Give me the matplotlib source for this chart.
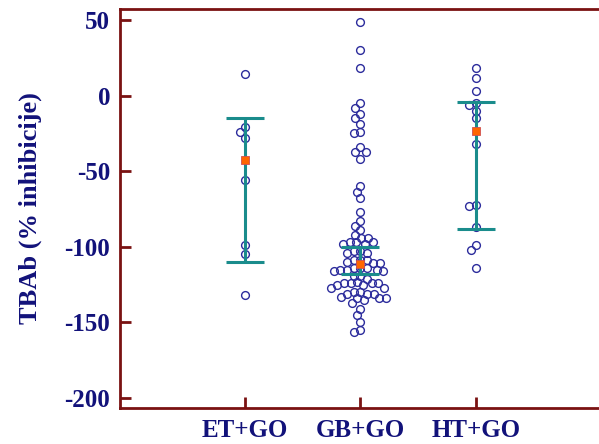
import matplotlib
matplotlib.use("Agg")
import matplotlib.pyplot as plt
import numpy as np

groups = ["ET+GO", "GB+GO", "HT+GO"]

et_vals = [14, -21, -24, -28, -56, -99, -105, -132]
gb_vals = [49, 30, 18, -5, -8, -12, -15, -19, -24, -25, -34, -37, -37, -42,
           -60, -64, -68, -77, -83, -86, -89, -92,
           -94, -94, -97, -97, -97, -98, -98,
           -103, -103, -104, -104, -109, -109, -109, -110, -111, -111,
           -114, -114, -114, -115, -115, -115, -116, -116, -119, -119, -121,
           -123, -124, -124, -124, -124, -125, -125, -127, -127,
           -130, -130, -131, -131, -131, -133, -134, -134, -134, -135,
           -137, -141, -145, -150, -155, -156]
ht_vals = [18, 12, 3, -5, -6, -10, -15, -32, -72, -73, -87, -99, -102, -114]

medians = [-42.5, -111.5, -23.3]
upper = [-14.7, -99.9, -4.0]
lower = [-109.8, -117.9, -87.9]

yticks = [50, 0, -50, -100, -150, -200]

navy = "#12127a"
maroon = "#7a1212"
teal = "#1a8c8c"

plt.rcParams["font.family"] = ["Liberation Serif", "DejaVu Serif"]
plt.rcParams["font.weight"] = "bold"
plt.rcParams["axes.unicode_minus"] = False


def swarm_offsets(ax, center, vals, gap=6.8):
    # simple beeswarm in pixel space: each point goes to the closest free spot
    pts = ax.transData.transform(np.column_stack([np.full(len(vals), center), vals]))
    ypx = pts[:, 1]
    order = np.argsort(-ypx)
    placed_x, placed_y = [], []
    xoff = np.zeros(len(vals))
    for i in order:
        y = ypx[i]
        cands = [0.0]
        for px, py in zip(placed_x, placed_y):
            dy = abs(py - y)
            if dy < gap:
                dx = np.sqrt(gap ** 2 - dy ** 2)
                cands += [px - dx - 0.01, px + dx + 0.01]
        cands = sorted(cands, key=abs)
        for c in cands:
            ok = all((px - c) ** 2 + (py - y) ** 2 >= gap ** 2 - 1e-6
                     for px, py in zip(placed_x, placed_y))
            if ok:
                break
        xoff[i] = c
        placed_x.append(c)
        placed_y.append(y)
    xs = pts[:, 0] + xoff
    back = ax.transData.inverted().transform(np.column_stack([xs, ypx]))
    return back[:, 0]


fig = plt.figure(figsize=(5.99, 4.44), dpi=100)
ax = fig.add_axes([0.2003, 0.081, 0.7997, 0.8987])
ax.set_xlim(-1.082, 3.065)
ax.set_ylim(-206.6, 57.3)

pos = np.arange(len(groups))
for p, vals in zip(pos, [et_vals, gb_vals, ht_vals]):
    xs = swarm_offsets(ax, p, vals)
    ax.plot(xs, vals, "o", linestyle="none", markersize=5.6, markerfacecolor="none",
            markeredgecolor="#2c2c9c", markeredgewidth=1.0, zorder=2)

med = np.array(medians)
err = [med - np.array(lower), np.array(upper) - med]
ax.errorbar(pos, med, yerr=err, fmt="none", ecolor=teal, elinewidth=2.2,
            capsize=13.5, capthick=2.2, zorder=3)
ax.plot(pos, med, "s", color="#ff6600", markeredgecolor="#d05050",
        markeredgewidth=0.6, markersize=6, zorder=4, linestyle="none")

ax.set_yticks(yticks)
ax.set_xticks(pos)
ax.set_xticklabels(groups)
ax.set_ylabel("TBAb (% inhibicije)", fontsize=19, fontweight="bold", color=navy, labelpad=16)

for s in ["left", "top", "bottom"]:
    ax.spines[s].set_color(maroon)
    ax.spines[s].set_linewidth(2)
ax.spines["right"].set_visible(False)

ax.tick_params(axis="both", direction="in", length=8, width=2, color=maroon,
               labelcolor=navy, labelsize=18, pad=7)
ax.tick_params(axis="x", pad=8)
for lab in ax.get_xticklabels() + ax.get_yticklabels():
    lab.set_fontweight("bold")

fig.savefig("out.png", dpi=100)
